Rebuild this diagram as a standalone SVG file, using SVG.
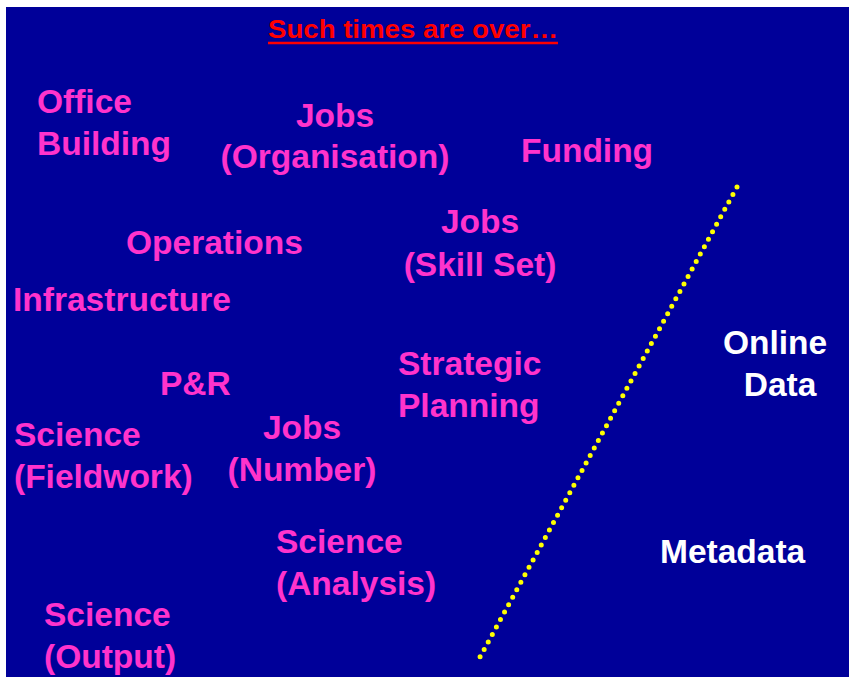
<svg xmlns="http://www.w3.org/2000/svg" width="856" height="677" viewBox="0 0 856 677">
<style>
.p{font-family:"Liberation Sans",Arial,sans-serif;font-weight:bold;font-size:33.5px;fill:#FF33CC}
.w{font-family:"Liberation Sans",Arial,sans-serif;font-weight:bold;font-size:33.5px;fill:#FFFFFF}
.m{text-anchor:middle}
</style>
<rect x="0" y="0" width="856" height="677" fill="#FFFFFF"/>
<rect x="6" y="7" width="843" height="670" fill="#000099"/>
<g id="title">
<text x="413" y="38" text-anchor="middle" font-family="'Liberation Sans',Arial,sans-serif" font-weight="bold" font-size="25" fill="#FF0000" textLength="290" lengthAdjust="spacingAndGlyphs">Such times are over…</text>
<line x1="268" y1="43" x2="558" y2="43" stroke="#FF0000" stroke-width="2.5"/>
</g>
<g id="connectors">
<line x1="737" y1="187" x2="480" y2="657" stroke="#FFFF00" stroke-width="5" stroke-dasharray="0 8.5" stroke-linecap="round"/>
</g>
<g id="office"><text class="p" x="37" y="113">Office</text><text class="p" x="37" y="155">Building</text></g>
<g id="jobs-org"><text class="p m" x="335" y="127">Jobs</text><text class="p m" x="335" y="168">(Organisation)</text></g>
<g id="funding"><text class="p" x="521" y="162">Funding</text></g>
<g id="operations"><text class="p" x="126" y="254">Operations</text></g>
<g id="jobs-skill"><text class="p m" x="480" y="233">Jobs</text><text class="p m" x="480" y="276">(Skill Set)</text></g>
<g id="infrastructure"><text class="p" x="13" y="311">Infrastructure</text></g>
<g id="online-data"><text class="w m" x="775" y="354">Online</text><text class="w m" x="780" y="396">Data</text></g>
<g id="pr"><text class="p" x="160" y="395">P&amp;R</text></g>
<g id="strategic"><text class="p" x="398" y="375">Strategic</text><text class="p" x="398" y="417">Planning</text></g>
<g id="sci-field"><text class="p" x="14" y="446">Science</text><text class="p" x="14" y="488">(Fieldwork)</text></g>
<g id="jobs-num"><text class="p m" x="302" y="439">Jobs</text><text class="p m" x="302" y="481">(Number)</text></g>
<g id="sci-analysis"><text class="p" x="276" y="553">Science</text><text class="p" x="276" y="595">(Analysis)</text></g>
<g id="metadata"><text class="w" x="660" y="563">Metadata</text></g>
<g id="sci-output"><text class="p" x="44" y="626">Science</text><text class="p" x="44" y="668">(Output)</text></g>
</svg>
